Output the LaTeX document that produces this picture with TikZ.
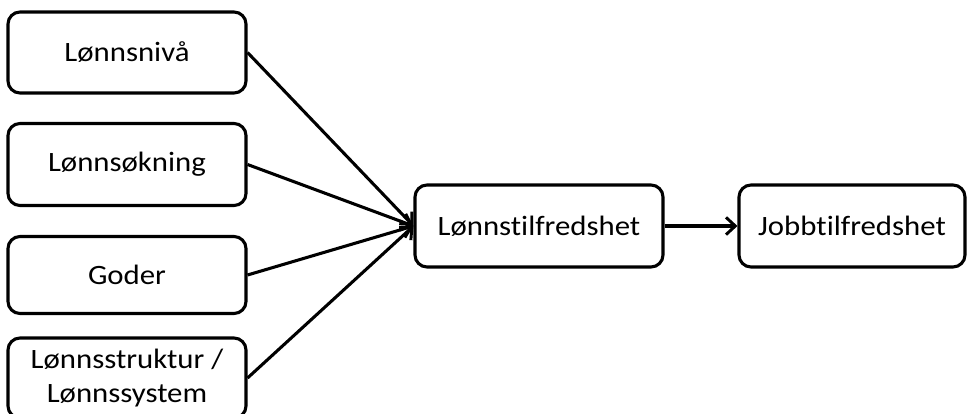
\documentclass[tikz,border=0pt]{standalone}
\usepackage{fontspec}
\setmainfont[FakeStretch=1.1,Ligatures=NoCommon]{Carlito}
\usetikzlibrary{arrows.meta}
\begin{document}
\begin{tikzpicture}[x=0.75pt,y=-0.75pt,
  box/.style={draw=black,line width=2.3pt,rounded corners=9pt,fill=white,
    align=center,font=\fontsize{21}{25}\selectfont,inner sep=0pt},
  link/.style={line width=2.3pt,-{Straight Barb[length=7pt,width=13pt,line width=2.2pt]}}]
  \useasboundingbox (0,0) rectangle (968,414);
  % factors on the left
  \node[box,minimum width=238*0.75pt,minimum height=81*0.75pt] (niva) at (127,52.5) {Lønnsnivå};
  \node[box,minimum width=238*0.75pt,minimum height=82*0.75pt] (okning) at (127,164.5) {Lønnsøkning};
  \node[box,minimum width=238*0.75pt,minimum height=77*0.75pt] (goder) at (127,275) {Goder};
  \node[box,minimum width=238*0.75pt,minimum height=80*0.75pt] (struktur) at (127,378) {Lønnsstruktur /\\Lønnssystem};
  % outcomes
  \node[box,minimum width=248*0.75pt,minimum height=82*0.75pt] (lonn) at (539,226) {Lønnstilfredshet};
  \node[box,minimum width=226*0.75pt,minimum height=82*0.75pt] (jobb) at (852,226) {Jobbtilfredshet};
  % connectors
  \draw[link] (niva.east) -- (lonn.west);
  \draw[link] (okning.east) -- (lonn.west);
  \draw[link] (goder.east) -- (lonn.west);
  \draw[link] (struktur.east) -- (lonn.west);
  \draw[link] (lonn.east) -- (jobb.west);
\end{tikzpicture}
\end{document}
